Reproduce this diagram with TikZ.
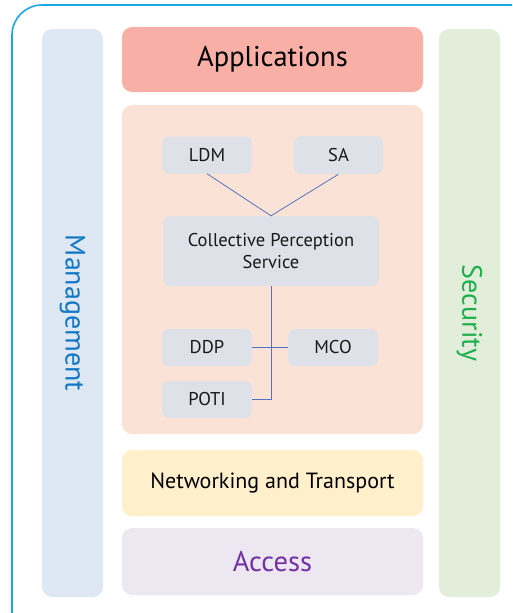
\documentclass[tikz,border=0pt]{standalone}
\usepackage{fontspec}
\setmainfont{PT Sans}
\definecolor{frameC}{HTML}{1AA7E6}
\definecolor{appC}{HTML}{F8B0A6}
\definecolor{facC}{HTML}{FAE3D6}
\definecolor{netC}{HTML}{FFF0CB}
\definecolor{accC}{HTML}{EDE7F2}
\definecolor{mgmtC}{HTML}{DDE8F4}
\definecolor{secC}{HTML}{E2EED9}
\definecolor{innerC}{HTML}{DEE1E7}
\definecolor{lineC}{HTML}{4F72C4}
\definecolor{mgmtT}{HTML}{1277C4}
\definecolor{secT}{HTML}{1DB04E}
\definecolor{accT}{HTML}{7332A3}
\begin{document}
\begin{tikzpicture}[x=1pt,y=-1pt,
  layer/.style={rounded corners=10pt, draw=none, inner sep=0pt, align=center},
  inner/.style={rounded corners=7pt, fill=innerC, draw=none, inner sep=0pt, align=center, font=\fontsize{18.5}{22}\selectfont, text=black!90},
  conn/.style={draw=lineC, line width=0.8pt}]
\useasboundingbox (0,0) rectangle (512,613);
\begin{scope}
\clip (0,0) rectangle (512,613);
\draw[frameC, line width=1.6pt, rounded corners=30pt] (12,5) rectangle (560,660);
\end{scope}
% side columns
\node[layer, fill=mgmtC, minimum width=61pt, minimum height=568pt] (mgmt) at (72.5,313) {};
\node[rotate=-90, text=mgmtT, font=\fontsize{28}{32}\selectfont] (mgmtlabel) at (mgmt.center) {Management};
\node[layer, fill=secC, minimum width=61pt, minimum height=568pt] (sec) at (469.5,313) {};
\node[rotate=-90, text=secT, font=\fontsize{28}{32}\selectfont] (seclabel) at (sec.center) {Security};
% layers
\node[layer, fill=appC, minimum width=301pt, minimum height=65pt, font=\fontsize{28.5}{32}\selectfont, text=black] (app) at (272.5,59.5) {Applications};
\node[layer, fill=facC, minimum width=301pt, minimum height=329pt] (fac) at (272.5,269.5) {};
\node[layer, fill=netC, minimum width=301pt, minimum height=66pt, font=\fontsize{22}{26}\selectfont, text=black] (net) at (272.5,483) {Networking and Transport};
\node[layer, fill=accC, minimum width=301pt, minimum height=67pt, font=\fontsize{28.5}{32}\selectfont, text=accT] (acc) at (272.5,561.5) {Access};
% facilities
\node[inner, minimum width=90pt, minimum height=37pt] (ldm) at (207,155) {LDM};
\node[inner, minimum width=89pt, minimum height=38pt] (sa) at (338.5,155) {SA};
\node[inner, minimum width=216pt, minimum height=70pt] (cps) at (271,251) {Collective Perception\\Service};
\node[inner, minimum width=90pt, minimum height=37pt] (ddp) at (207,347.5) {DDP};
\node[inner, minimum width=90pt, minimum height=37pt] (mco) at (333,347.5) {MCO};
\node[inner, minimum width=90pt, minimum height=37pt] (poti) at (207,399.5) {POTI};
\draw[conn] (ldm.south) -- (cps.north) -- (sa.south);
\draw[conn] (cps.south) |- (poti.east);
\draw[conn] (ddp.east) -- (mco.west);
\end{tikzpicture}
\end{document}
